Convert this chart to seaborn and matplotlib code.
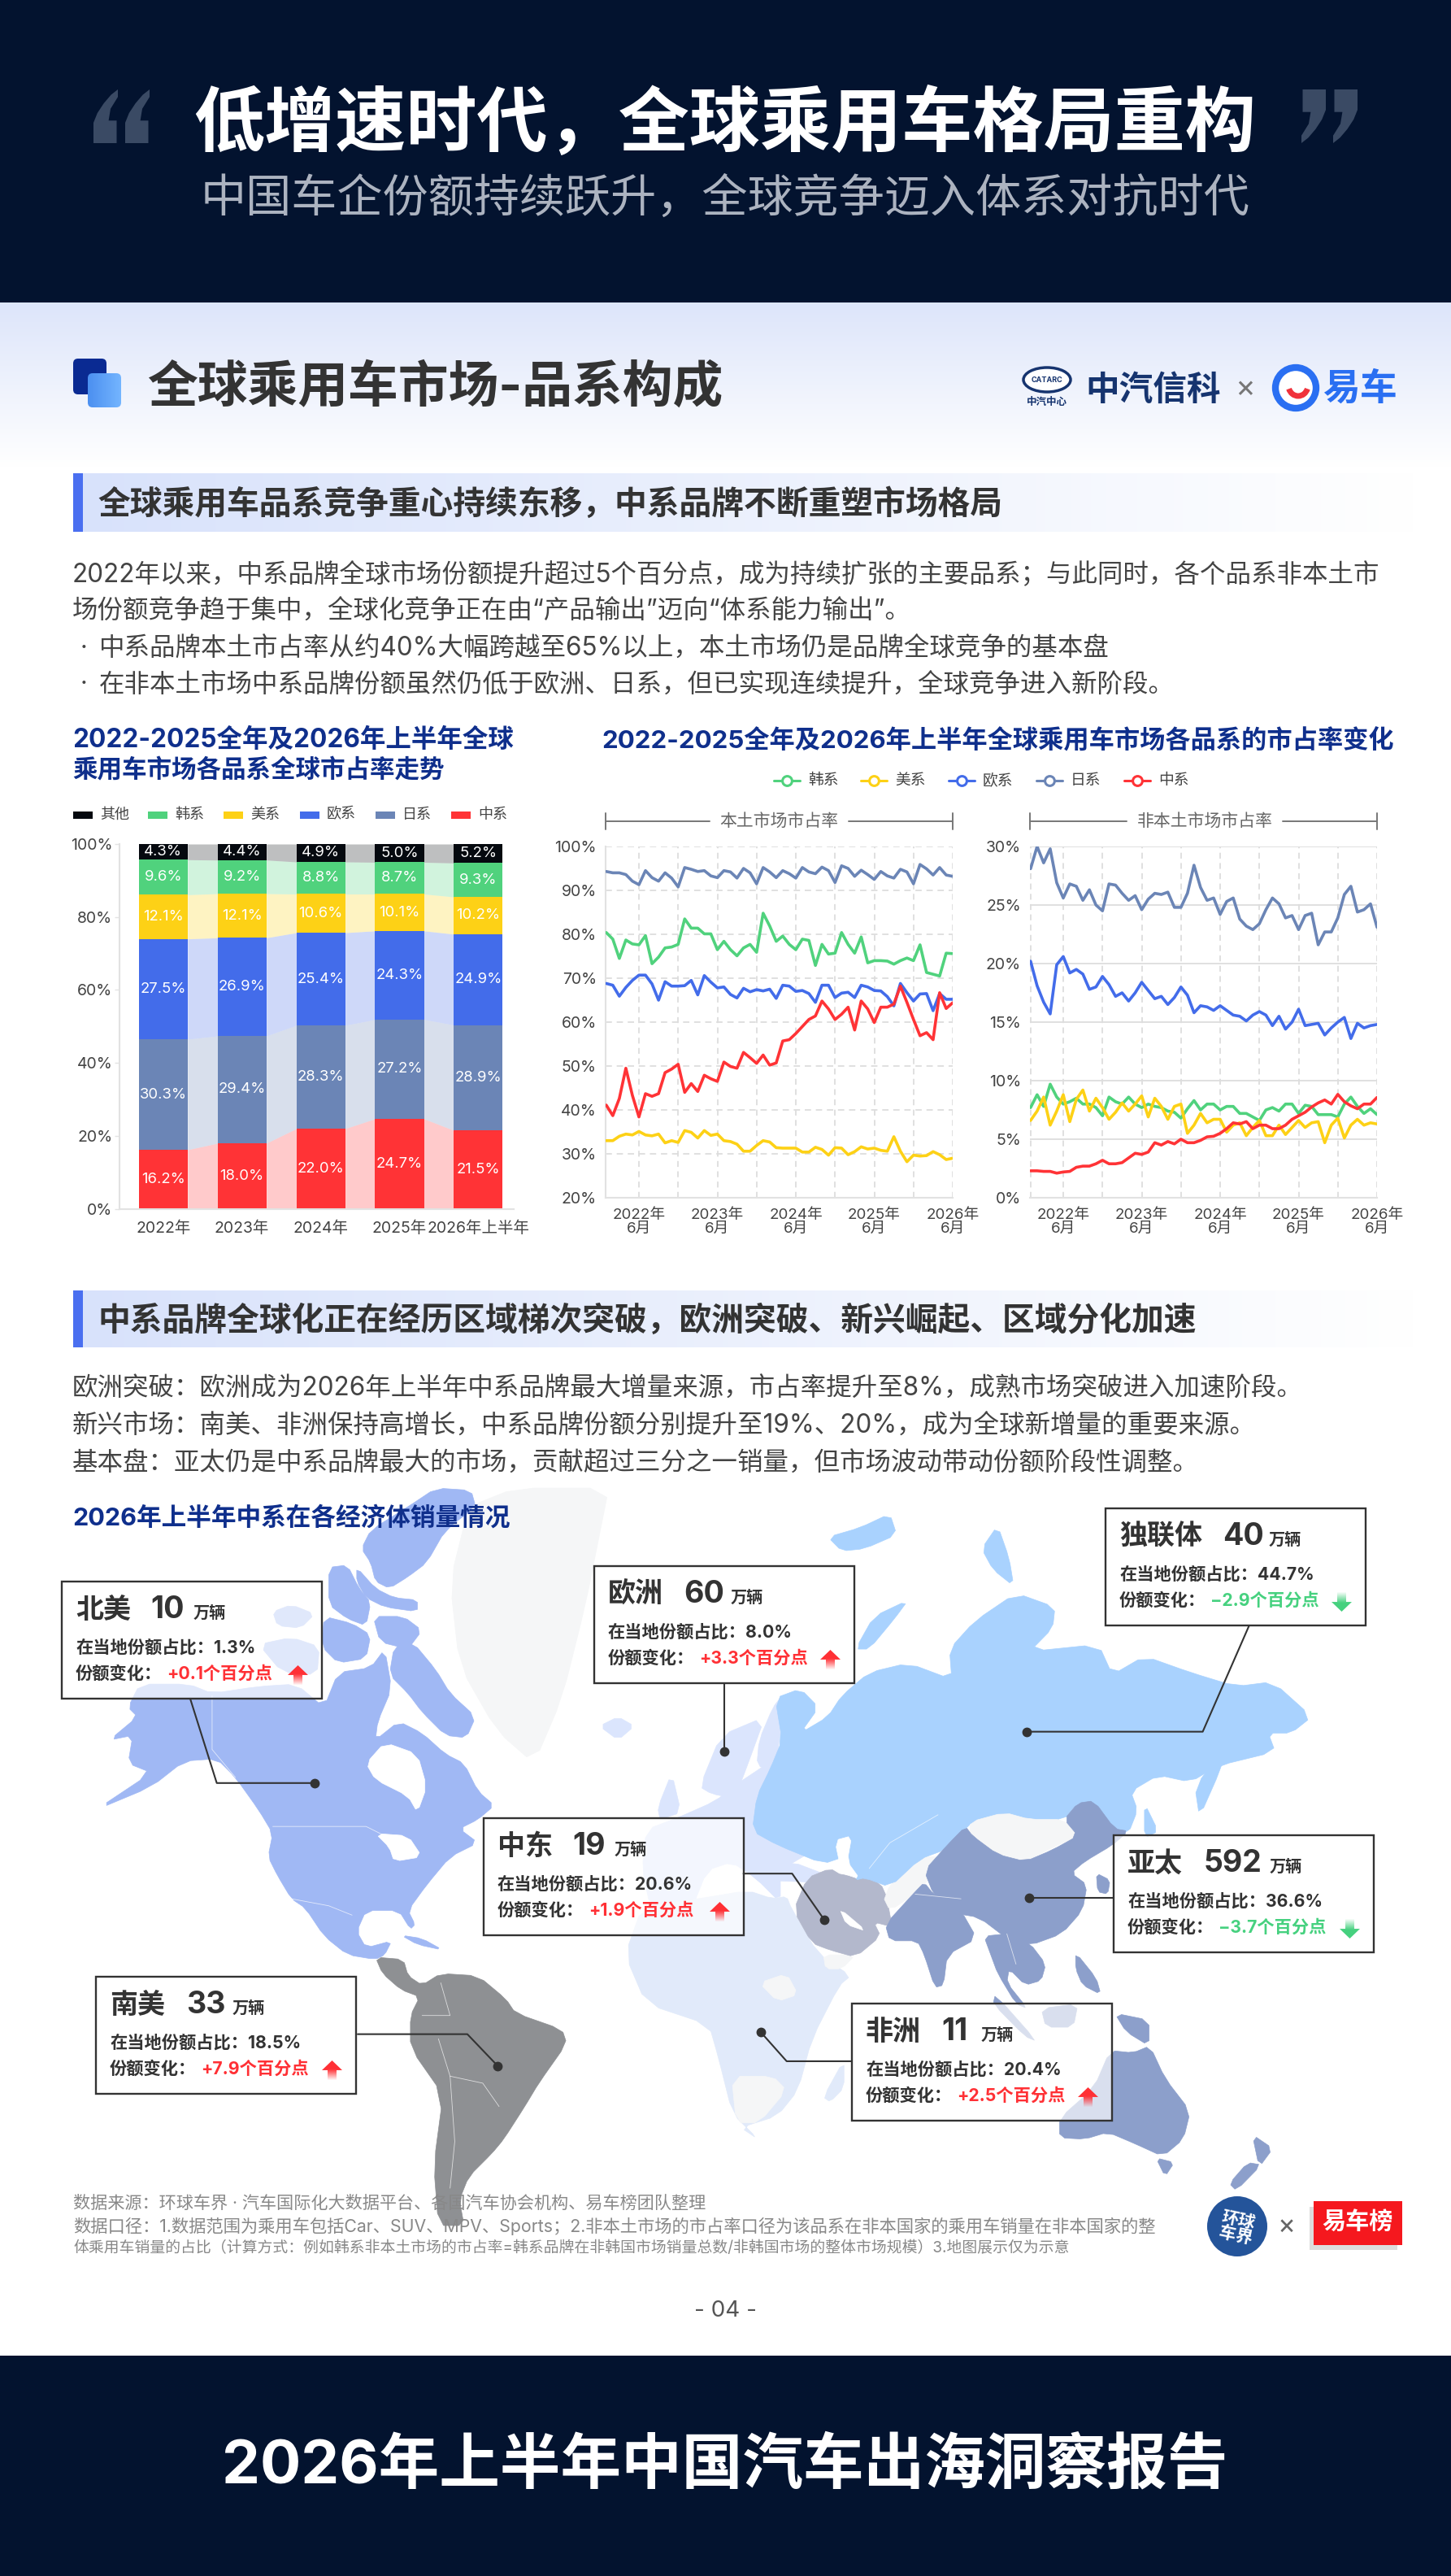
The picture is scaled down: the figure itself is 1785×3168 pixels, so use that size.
import numpy as np
import pandas as pd
import matplotlib
matplotlib.use("Agg")
import matplotlib.pyplot as plt
from matplotlib.patches import Polygon, Rectangle, FancyBboxPatch, Ellipse, Arc
import seaborn as sns

sns.set_theme(style="white")
plt.rcParams['font.family'] = ['Inter', 'Noto Sans CJK SC', 'DejaVu Sans']
plt.rcParams['axes.unicode_minus'] = False

W, H = 1785, 3168
C_KR, C_US, C_EU, C_JP, C_CN, C_OT = '#50d27d', '#fdd116', '#436cea', '#6b85b6', '#ff3336', '#05090f'
NAVY = '#03132f'
TITLE_BLUE = '#0f2f8c'
INK = '#333333'

# ---------- stacked bars ----------
years = ['2022年', '2023年', '2024年', '2025年', '2026年上半年']
stack_names = ['中系', '日系', '欧系', '美系', '韩系', '其他']
share_cn = [16.2, 18.0, 22.0, 24.7, 21.5]
share_jp = [30.3, 29.4, 28.3, 27.2, 28.9]
share_eu = [27.5, 26.9, 25.4, 24.3, 24.9]
share_us = [12.1, 12.1, 10.6, 10.1, 10.2]
share_kr = [9.6, 9.2, 8.8, 8.7, 9.3]
share_ot = [4.3, 4.4, 4.9, 5.0, 5.2]

# ---------- monthly lines, Jan 2022 - Jun 2026 ----------
home_jp = [94.3, 94.0, 94.0, 93.6, 92.1, 91.3, 94.5, 92.9, 92.1, 94.0,
           92.8, 90.8, 95.2, 94.8, 94.3, 94.5, 93.3, 92.9, 94.5, 94.2,
           92.8, 95.0, 94.0, 91.5, 95.2, 94.2, 92.9, 94.5, 93.8, 92.8,
           95.2, 94.2, 93.8, 95.3, 94.5, 91.8, 95.6, 95.0, 93.2, 94.6,
           93.6, 92.5, 94.3, 93.3, 92.8, 94.8, 94.2, 91.5, 95.9, 94.9,
           93.5, 95.2, 93.5, 93.2]
home_kr = [80.4, 78.9, 74.5, 78.7, 77.8, 77.6, 79.7, 73.3, 74.8, 76.9,
           77.1, 77.7, 83.5, 81.4, 81.4, 80.1, 80.1, 76.5, 78.4, 76.5,
           75.1, 76.9, 77.7, 75.9, 84.8, 81.9, 78.4, 79.6, 77.7, 76.5,
           78.9, 78.6, 72.9, 77.7, 75.5, 75.7, 80.4, 77.7, 75.7, 79.4,
           73.5, 74.0, 74.0, 73.9, 73.2, 74.0, 74.6, 74.0, 77.6, 71.3,
           70.9, 70.5, 75.7, 75.6]
home_eu = [68.8, 68.4, 65.9, 67.9, 69.5, 70.7, 70.7, 68.7, 65.0, 69.2,
           68.2, 68.2, 68.3, 69.5, 66.2, 70.6, 69.1, 67.8, 68.0, 66.3,
           65.5, 67.7, 66.9, 67.4, 67.1, 67.5, 65.4, 68.4, 68.2, 67.0,
           67.2, 66.5, 64.5, 68.4, 68.4, 65.6, 66.6, 66.8, 65.6, 68.4,
           68.0, 67.2, 67.1, 65.8, 63.7, 68.8, 66.7, 64.8, 66.4, 66.5,
           62.6, 66.5, 65.2, 65.2]
home_cn = [41.1, 38.7, 42.6, 49.5, 43.3, 38.4, 43.7, 43.1, 43.7, 48.5,
           49.3, 50.4, 44.0, 46.0, 44.2, 47.9, 47.1, 46.5, 50.9, 49.9,
           49.5, 53.1, 51.9, 50.6, 52.5, 50.2, 50.7, 55.7, 56.0, 57.4,
           59.0, 60.6, 61.4, 64.8, 63.0, 60.6, 61.8, 63.4, 58.2, 64.8,
           63.0, 59.9, 63.4, 63.4, 64.1, 68.2, 64.5, 60.6, 56.9, 57.6,
           56.0, 66.7, 63.1, 64.4]
home_us = [33.0, 33.0, 34.0, 34.5, 34.3, 35.1, 34.3, 34.1, 34.5, 32.5,
           33.0, 32.6, 35.3, 34.9, 33.6, 35.3, 34.2, 34.5, 33.0, 32.8,
           32.2, 30.6, 30.6, 31.9, 33.0, 32.7, 31.4, 31.3, 31.3, 31.3,
           30.4, 30.4, 31.5, 31.0, 29.7, 31.4, 31.3, 29.8, 30.5, 31.6,
           31.1, 31.3, 30.8, 30.6, 33.9, 30.6, 28.2, 29.7, 29.5, 29.6,
           30.5, 29.8, 28.7, 29.0]
away_jp = [28.1, 30.0, 28.6, 29.8, 26.9, 25.6, 26.8, 26.6, 25.4, 26.3,
           25.0, 24.5, 26.8, 26.7, 26.0, 25.4, 25.8, 24.6, 25.5, 26.0,
           25.9, 26.1, 24.8, 24.8, 26.0, 28.4, 26.5, 25.4, 25.6, 24.2,
           25.3, 25.6, 23.8, 23.2, 22.9, 23.4, 24.6, 25.6, 25.1, 23.9,
           24.1, 22.9, 24.1, 24.3, 21.6, 22.7, 22.7, 23.9, 25.9, 26.6,
           24.4, 24.6, 25.1, 23.1]
away_eu = [20.2, 18.1, 16.7, 15.7, 19.9, 20.6, 19.2, 19.5, 19.1, 17.8,
           18.0, 18.9, 18.2, 17.2, 17.5, 16.8, 17.5, 18.4, 17.7, 17.0,
           17.2, 16.5, 17.1, 18.0, 17.3, 15.8, 16.4, 16.3, 16.0, 16.4,
           16.0, 15.6, 15.5, 15.1, 15.6, 15.9, 15.6, 14.7, 15.5, 14.4,
           15.0, 16.1, 14.7, 14.8, 14.9, 13.9, 14.5, 15.0, 15.4, 13.6,
           14.9, 14.5, 14.7, 14.8]
away_kr = [7.7, 8.8, 7.8, 9.7, 8.6, 8.0, 8.2, 8.5, 8.0, 8.0,
           7.7, 7.0, 8.6, 8.2, 8.0, 8.6, 8.0, 7.7, 8.0, 7.8,
           7.7, 7.4, 7.3, 6.8, 7.6, 8.3, 7.5, 8.0, 8.0, 7.5,
           7.8, 7.8, 7.2, 7.2, 6.9, 6.6, 7.5, 7.7, 7.4, 8.0,
           8.0, 7.2, 7.9, 7.8, 7.1, 7.1, 7.1, 6.9, 8.0, 8.6,
           7.8, 7.2, 7.6, 7.1]
away_us = [6.6, 7.4, 8.6, 6.2, 7.4, 8.8, 6.5, 8.4, 9.2, 7.4,
           8.5, 7.7, 6.7, 7.3, 8.1, 7.4, 8.0, 8.7, 6.9, 8.5,
           7.8, 6.7, 7.8, 8.0, 5.5, 6.2, 7.2, 6.4, 6.7, 6.7,
           5.6, 6.2, 6.4, 5.3, 6.0, 6.6, 5.3, 5.3, 6.2, 5.4,
           6.0, 6.6, 6.0, 6.4, 6.5, 4.7, 6.2, 6.8, 5.1, 6.2,
           6.7, 6.2, 6.4, 6.3]
away_cn = [2.3, 2.3, 2.25, 2.25, 2.1, 2.2, 2.25, 2.6, 2.7, 2.7,
           2.9, 3.2, 2.9, 2.9, 3.0, 3.4, 3.8, 3.7, 3.9, 4.7,
           4.5, 4.8, 4.6, 5.0, 4.7, 4.7, 4.9, 5.2, 5.25, 5.5,
           5.9, 6.4, 6.3, 6.5, 5.9, 6.2, 6.2, 5.9, 5.9, 6.2,
           6.7, 7.0, 7.3, 7.75, 8.1, 8.35, 8.0, 8.83, 8.2, 7.85,
           7.6, 8.0, 8.0, 8.57]
line_names = ['韩系', '美系', '欧系', '日系', '中系']
tick_years = ['2022年', '2023年', '2024年', '2025年', '2026年']

# ---------- regional call-outs ----------
region_names = ['北美', '欧洲', '中东', '南美', '独联体', '亚太', '非洲']
region_units = ['10', '60', '19', '33', '40', '592', '11']
region_share = ['1.3%', '8.0%', '20.6%', '18.5%', '44.7%', '36.6%', '20.4%']
region_delta = ['+0.1', '+3.3', '+1.9', '+7.9', '−2.9', '−3.7', '+2.5']

fig = plt.figure(figsize=(W / 100, H / 100), dpi=100, facecolor='white')
bg = fig.add_axes([0, 0, 1, 1], zorder=0)
bg.set_axis_off()


def z4(pts):
    return [(60 + x / 1.742, 1830 + y / 1.742) for x, y in pts]


def z5(pts):
    return [(900 + x / 1.772, 1830 + y / 1.742) for x, y in pts]


def T(x, y, s, fs, c=INK, w='normal', ha='left', va='center', **k):
    return bg.text(x, y, s, fontsize=fs, color=c, fontweight=w, ha=ha, va=va, **k)


def rect(x0, y0, x1, y1, c, **k):
    bg.add_patch(Rectangle((x0, y0), x1 - x0, y1 - y0, facecolor=c, edgecolor='none', **k))


def grad(x0, y0, x1, y1, c0, c1, vertical=True, clip=None, zorder=1, hold=0.0):
    a = np.array(matplotlib.colors.to_rgba(c0))
    b = np.array(matplotlib.colors.to_rgba(c1))
    t = np.clip((np.linspace(0, 1, 128) - hold) / (1 - hold), 0, 1)[:, None]
    img = a[None, :] * (1 - t) + b[None, :] * t
    img = img[:, None, :] if vertical else img[None, :, :]
    im = bg.imshow(img, extent=(x0, x1, y1, y0), aspect='auto', zorder=zorder, interpolation='bilinear')
    if clip is not None:
        bg.add_patch(clip)
        im.set_clip_path(clip)
    return im


def smooth(pts, n=1):
    p = np.array(pts, dtype=float)
    for _ in range(n):
        q = np.roll(p, -1, axis=0)
        p = np.column_stack([.8 * p + .2 * q, .2 * p + .8 * q]).reshape(-1, 2)
    return p


# ---------- page frame ----------
rect(0, 0, W, 372, NAVY)
rect(0, 2897, W, H, NAVY)
grad(0, 372, W, 575, '#dde5fa', '#ffffff')
T(892, 153, '低增速时代，全球乘用车格局重构', 62.7, 'white', 'bold', ha='center')
T(892, 245, '中国车企份额持续跃升，全球竞争迈入体系对抗时代', 40.4, '#acb3c0', ha='center')
T(892, 3033, '2026年上半年中国汽车出海洞察报告', 53.7, 'white', 'bold', ha='center')
T(892, 2842, '- 04 -', 20, '#555555', ha='center')

quote_shape = np.array([(1, 0), (.72, .1), (.42, .26), (.16, .44), (0, .62), (0, 1), (.95, 1), (.95, .58), (.62, .58), (.7, .36), (1, .14)])
for qx, flip in ((115, False), (1601, True)):
    for off in (0, 39):
        s = quote_shape if not flip else 1 - quote_shape
        bg.add_patch(Polygon(np.c_[qx + off + s[:, 0] * 30, 110 + s[:, 1] * 66], facecolor='#3a4a64', edgecolor='none', zorder=2))

# ---------- section header ----------
bg.add_patch(FancyBboxPatch((94, 445), 33, 36, boxstyle='round,pad=4,rounding_size=6', facecolor='#0a2a92', edgecolor='none', zorder=2))
clip_p = FancyBboxPatch((112, 463), 33, 34, boxstyle='round,pad=4,rounding_size=6', facecolor='none', edgecolor='none', transform=bg.transData)
grad(108, 459, 149, 501, '#4b8ff0', '#74b5ff', vertical=False, clip=clip_p, zorder=3)
T(181, 478, '全球乘用车市场-品系构成', 44.5, INK, 'bold')

bg.add_patch(Ellipse((1288, 467), 58, 30, facecolor='white', edgecolor='#16346f', lw=2.5, zorder=2))
T(1288, 467, 'CATARC', 6.5, '#16346f', 'bold', ha='center', zorder=3)
T(1288, 495, '中汽中心', 9, '#16346f', 'bold', ha='center')
T(1335, 480, '中汽信科', 30, '#16346f', 'bold')
T(1532, 478, '×', 27, '#777777', ha='center')
bg.add_patch(Ellipse((1594, 477), 50, 50, facecolor='white', edgecolor='#2a6ff2', lw=6, zorder=2))
bg.add_patch(Arc((1597, 474), 24, 26, theta1=20, theta2=160, edgecolor='#f0323c', lw=5, zorder=3, angle=0))
T(1627, 479, '易车', 33, '#2a6ff2', 'bold')

# ---------- banners and copy ----------
for y0, y1, txt, fs in ((582, 654, '全球乘用车品系竞争重心持续东移，中系品牌不断重塑市场格局', 28.65),
                        (1587, 1657, '中系品牌全球化正在经历区域梯次突破，欧洲突破、新兴崛起、区域分化加速', 28.65)):
    grad(90, y0, 1745, y1, '#d8e2fb', '#ffffff', vertical=False)
    rect(90, y0, 102, y1, '#4a6ff0', zorder=2)
    T(120, (y0 + y1) / 2 + 2, txt, fs, INK, 'bold', zorder=3)

body = [(89, 707, '2022年以来，中系品牌全球市场份额提升超过5个百分点，成为持续扩张的主要品系；与此同时，各个品系非本土市'),
        (89, 752, '场份额竞争趋于集中，全球化竞争正在由“产品输出”迈向“体系能力输出”。'),
        (122, 798, '中系品牌本土市占率从约40%大幅跨越至65%以上，本土市场仍是品牌全球竞争的基本盘'),
        (122, 842, '在非本土市场中系品牌份额虽然仍低于欧洲、日系，但已实现连续提升，全球竞争进入新阶段。'),
        (89, 1708, '欧洲突破：欧洲成为2026年上半年中系品牌最大增量来源，市占率提升至8%，成熟市场突破进入加速阶段。'),
        (89, 1754, '新兴市场：南美、非洲保持高增长，中系品牌份额分别提升至19%、20%，成为全球新增量的重要来源。'),
        (89, 1800, '基本盘：亚太仍是中系品牌最大的市场，贡献超过三分之一销量，但市场波动带动份额阶段性调整。')]
for x, y, s in body:
    T(x, y, s, 22.65, '#444444')
for y in (798, 842):
    T(103, y, '·', 22, '#444444', ha='center')

T(89, 910, '2022-2025全年及2026年上半年全球', 22.7, TITLE_BLUE, 'bold')
T(89, 947, '乘用车市场各品系全球市占率走势', 22, TITLE_BLUE, 'bold')
T(740, 911, '2022-2025全年及2026年上半年全球乘用车市场各品系的市占率变化', 22.5, TITLE_BLUE, 'bold')
T(89, 1867, '2026年上半年中系在各经济体销量情况', 22.1, TITLE_BLUE, 'bold')

# stacked legend
for x, name, c in zip((90, 182, 275, 369, 462, 555),
                      ('其他', '韩系', '美系', '欧系', '日系', '中系'),
                      (C_OT, C_KR, C_US, C_EU, C_JP, C_CN)):
    rect(x, 998, x + 24, 1007, c)
    T(x + 33, 1002, name, 13, '#444444')

# line legend
for x, name, c in zip((952, 1059, 1167, 1275, 1383), line_names, (C_KR, C_US, C_EU, C_JP, C_CN)):
    bg.plot([x, x + 32], [960, 960], color=c, lw=2.2, solid_capstyle='round', zorder=2)
    bg.plot([x + 16], [960], 'o', ms=8.5, mfc='white', mec=c, mew=2.2, zorder=3)
    T(x + 42, 960, name, 13.5, '#444444')

# brackets above the two line charts
for x0, x1, g0, g1, label in ((745, 1172, 873, 1044, '本土市场市占率'), (1267, 1694, 1386, 1578, '非本土市场市占率')):
    for xa, xb in ((x0, g0), (g1, x1)):
        bg.plot([xa, xb], [1010, 1010], color='#777777', lw=1.4)
    for xa in (x0, x1):
        bg.plot([xa, xa], [1000, 1020], color='#777777', lw=1.4)
    T((g0 + g1) / 2, 1010, label, 15, '#666666', ha='center')

# ---------- map ----------
L_NA, L_CIS, L_AP, L_EU, L_AF, L_ME, L_SA, L_GR = '#a0b8f4', '#a9d2fe', '#8c9fcb', '#dbe5fd', '#e1eafa', '#b3b8cc', '#8e9093', '#f5f6f7'
land = [
    (L_GR, z4([(860, 200), (900, 40), (1000, 0), (1200, 0), (1180, 100), (1150, 250), (1100, 450), (1040, 590), (960, 520), (880, 380)])),
    (L_NA, z4([(170, 470), (195, 420), (300, 420), (350, 440), (450, 425), (530, 420), (590, 470), (620, 395), (690, 385), (720, 345), (735, 430), (705, 500), (700, 540), (750, 500), (800, 525), (850, 570), (890, 590), (920, 650), (955, 680), (920, 710), (880, 730), (920, 760), (860, 790), (810, 850), (770, 905), (785, 935), (775, 945), (750, 905), (680, 905), (660, 950), (680, 985), (735, 970), (720, 1000), (700, 1010), (640, 1000), (590, 960), (550, 900), (520, 880), (490, 830), (470, 790), (480, 740), (450, 690), (400, 620), (360, 580), (290, 585), (220, 640), (100, 690), (220, 610), (170, 590), (180, 530), (130, 540), (190, 490)])),
    ('white', z4([(680, 590), (720, 545), (790, 570), (810, 640), (790, 695), (770, 660), (700, 625)])),
    ('white', z4([(700, 740), (770, 745), (800, 790), (740, 800), (730, 770)])),
    (L_NA, z4([(670, 130), (690, 90), (770, 40), (830, 0), (905, 5), (915, 40), (850, 90), (810, 160), (770, 190), (730, 215), (700, 200), (690, 160)])),
    (L_NA, z4([(660, 170), (700, 215), (740, 235), (790, 240), (790, 265), (720, 255), (680, 235), (660, 200)])),
    (L_NA, z4([(600, 170), (640, 165), (665, 215), (690, 245), (680, 295), (640, 280), (600, 250)])),
    (L_NA, z4([(590, 275), (650, 290), (690, 315), (680, 365), (620, 375), (585, 340)])),
    (L_NA, z4([(695, 275), (760, 275), (800, 305), (770, 345), (710, 330)])),
    (L_NA, z4([(740, 340), (780, 330), (830, 390), (860, 440), (915, 490), (895, 535), (850, 530), (800, 480), (770, 440), (730, 400)])),
    (L_NA, z4([(480, 265), (520, 250), (570, 270), (540, 300), (490, 295)])),
    (L_NA, z4([(450, 335), (520, 320), (580, 340), (575, 400), (500, 395)])),
    (L_NA, z4([(755, 958), (800, 965), (845, 990), (790, 978)])),
    (L_EU, z4([(1180, 510), (1220, 490), (1255, 510), (1220, 540)])),
    (L_SA, z4([(700, 1005), (760, 1010), (770, 1045), (800, 1065), (840, 1040), (920, 1045), (980, 1095), (1000, 1125), (1100, 1160), (1110, 1190), (1050, 1275), (1020, 1325), (975, 1395), (950, 1425), (900, 1475), (880, 1525), (890, 1580), (835, 1580), (825, 1450), (845, 1300), (775, 1200), (775, 1130), (795, 1090), (755, 1075), (715, 1040)])),
    (L_EU, [(795, 2250), (835, 2235), (880, 2215), (905, 2195), (950, 2165), (950, 2215), (930, 2235), (930, 2250), (960, 2270), (1010, 2270), (960, 2300), (960, 2340), (930, 2310), (900, 2290), (870, 2300), (850, 2350), (800, 2345), (790, 2300)]),
    (L_EU, z4([(1395, 640), (1440, 530), (1535, 490), (1495, 600), (1470, 665), (1420, 655)])),
    (L_EU, z5([(60, 540), (90, 470), (110, 445), (105, 540), (92, 605), (55, 595)])),
    (L_EU, z4([(1305, 685), (1335, 610), (1355, 695), (1310, 710)])),
    (L_EU, z5([(40, 810), (130, 800), (210, 830), (190, 845), (60, 840)])),
    (L_AF, [(769, 2404), (790, 2345), (860, 2335), (920, 2325), (950, 2335)] + z5([(120, 875), (130, 900), (190, 1000), (260, 1045), (235, 1065), (175, 1180), (145, 1290), (100, 1345), (20, 1370)]) + z4([(1520, 1395), (1465, 1340), (1435, 1220), (1415, 1150), (1280, 1105)])),
    (L_AF, z5([(200, 1305), (245, 1225), (245, 1285), (215, 1315)])),
    (L_GR, z5([(0, 1260), (90, 1260), (120, 1290), (60, 1360), (10, 1360)])),
    (L_GR, z5([(60, 1060), (120, 1040), (145, 1085), (100, 1100)])),
    (L_GR, z5([(200, 1000), (270, 1000), (240, 1030), (205, 1030)])),
    (L_ME, z5([(135, 905), (165, 835), (215, 815), (240, 830), (300, 830), (335, 860), (350, 940), (310, 930), (325, 960), (270, 1005), (215, 990), (175, 975)])),
    ('white', z5([(235, 900), (295, 950), (250, 935)])),
    (L_GR, z5([(330, 875), (390, 790), (465, 790), (420, 850), (400, 870), (345, 905)])),
    (L_CIS, z5([(85, 600), (110, 540), (95, 450), (150, 430), (190, 470), (150, 525), (210, 490), (240, 445), (300, 395), (385, 375), (480, 410), (475, 345), (530, 285), (620, 225), (705, 255), (700, 300), (650, 350), (800, 335), (830, 400), (900, 360), (1000, 395), (1100, 425), (1180, 415), (1265, 490), (1220, 525), (1170, 525), (1185, 565), (1060, 595), (1000, 630), (930, 615), (870, 650), (885, 690), (865, 740), (820, 735), (780, 680), (750, 680), (725, 710), (650, 710), (595, 695), (525, 715), (500, 740), (465, 775), (410, 795), (345, 855), (290, 835), (270, 840), (245, 790), (200, 805), (100, 765), (45, 735), (55, 660)])),
    ('white', z5([(225, 755), (262, 745), (252, 800), (280, 838), (240, 825)])),
    (L_CIS, z5([(270, 345), (310, 275), (385, 240), (355, 280), (300, 345)])),
    (L_CIS, z5([(1010, 640), (1080, 550), (1065, 605), (1020, 705)])),
    (L_CIS, z5([(900, 675), (930, 735), (900, 750)])),
    (L_CIS, z5([(210, 105), (280, 85), (345, 55), (360, 100), (290, 130), (240, 135)])),
    (L_CIS, z5([(545, 130), (580, 80), (605, 150), (615, 210), (570, 175)])),
    (L_GR, z5([(520, 715), (595, 695), (650, 710), (725, 710), (755, 745), (700, 770), (640, 800), (580, 785), (520, 745)])),
    (L_AP, z5([(420, 820), (470, 765), (510, 725), (525, 745), (580, 785), (640, 800), (700, 775), (755, 745), (725, 710), (755, 675), (790, 670), (835, 730), (865, 735), (830, 765), (770, 800), (740, 825), (775, 850), (765, 905), (720, 955), (650, 980), (600, 965), (540, 920), (480, 910), (440, 870)])),
    (L_AP, z5([(335, 935), (400, 865), (420, 845), (440, 870), (500, 905), (535, 965), (470, 1000), (462, 1065), (443, 1070), (420, 1000), (405, 970), (345, 970)])),
    (L_AP, z5([(550, 960), (600, 955), (650, 975), (685, 1020), (675, 1055), (640, 1065), (605, 1030), (600, 1060), (645, 1115), (620, 1105), (580, 1040), (565, 1000)])),
    (L_AP, z5([(750, 995), (795, 1050), (805, 1085), (765, 1065), (750, 1030)])),
    (L_AP, z5([(795, 825), (825, 840), (820, 870), (798, 865)])),
    (L_AP, z5([(575, 1085), (665, 1185), (640, 1175), (570, 1105)])),
    (L_AP, z5([(675, 1115), (755, 1105), (745, 1155), (685, 1155)])),
    (L_AP, z5([(835, 1125), (910, 1140), (910, 1195), (860, 1165)])),
    (L_AP, z5([(715, 1392), (715, 1350), (790, 1285), (825, 1205), (875, 1210), (912, 1195), (945, 1265), (1000, 1335), (985, 1395), (940, 1432), (880, 1405), (820, 1380), (770, 1395)])),
    (L_AP, z5([(925, 1435), (965, 1445), (945, 1475)])),
    (L_AP, z5([(1135, 1385), (1180, 1415), (1150, 1455)])),
    (L_AP, z5([(1125, 1445), (1155, 1450), (1100, 1505), (1085, 1490)])),
]
for c, pts in land:
    bg.add_patch(Polygon(smooth(pts), closed=True, facecolor=c, edgecolor=c, lw=.5, zorder=2, joinstyle='round'))

borders = [z4([(350, 445), (350, 560), (400, 620)]),
           z4([(480, 725), (680, 725), (720, 745)]),
           z4([(520, 880), (600, 895), (650, 915)]),
           z4([(840, 1060), (860, 1130), (800, 1130)]),
           z4([(835, 1180), (860, 1260), (930, 1275), (965, 1325)]),
           z4([(860, 1260), (870, 1400), (860, 1500)]),
           z5([(300, 815), (345, 760), (450, 700)]),
           z5([(400, 870), (500, 880)]),
           z5([(600, 955), (620, 1020)])]
for pts in borders:
    a = np.array(pts)
    bg.plot(a[:, 0], a[:, 1], color='white', lw=.6, alpha=.7, zorder=2.5)

links = [z4([(303, 451), (360, 632), (570, 632)]),
         z4([(1447, 420), (1447, 565)]),
         z5([(25, 826), (132, 826), (202, 925)]),
         z4([(662, 1170), (897, 1170), (962, 1238)]),
         z5([(1128, 295), (1027, 522), (643, 522)]),
         z5([(833, 878), (648, 878)]),
         z5([(262, 1228), (120, 1228), (63, 1165)])]
for pts in links:
    a = np.array(pts)
    bg.plot(a[:, 0], a[:, 1], color='#333333', lw=1.5, zorder=3)
    bg.plot(a[-1, 0], a[-1, 1], 'o', ms=7.5, color='#333333', zorder=3)

boxes = [(76, 1945), (731, 1926), (595, 2236), (118, 2431), (1360, 1855), (1370, 2257), (1048, 2464)]
num_off = [109, 110, 109, 111, 144, 111, 110]
unit_off = [162, 168, 161, 168, 201, 192, 159]
for (bx, by), name, units, sh, d, no, uo in zip(boxes, region_names, region_units, region_share, region_delta, num_off, unit_off):
    bg.add_patch(Rectangle((bx, by), 320, 144, facecolor=(1, 1, 1, .68), edgecolor='#333333', lw=1.7, zorder=4))
    T(bx + 17, by + 36, name, 24.5, INK, 'bold', zorder=5)
    T(bx + no, by + 35, units, 27, INK, 'bold', zorder=5)
    T(bx + uo, by + 39, '万辆', 14.5, INK, 'bold', zorder=5)
    T(bx + 17, by + 81, '在当地份额占比：' + sh, 15.3, INK, 'bold', zorder=5)
    T(bx + 17, by + 113, '份额变化：', 15.3, INK, 'bold', zorder=5)
    up = d.startswith('+')
    col = '#ff3035' if up else '#46d17f'
    T(bx + 129, by + 113, d + '个百分点', 15.3, col, 'bold', zorder=5)
    ax0, ay0 = bx + 278, by + 103
    if up:
        shape = [(12.5, 0), (25, 12), (18, 12), (18, 24), (7, 24), (7, 12), (0, 12)]
    else:
        shape = [(12.5, 24), (25, 12), (18, 12), (18, 0), (7, 0), (7, 12), (0, 12)]
    p = Polygon([(ax0 + a, ay0 + b) for a, b in shape], closed=True, facecolor='none', edgecolor='none', transform=bg.transData)
    if up:
        grad(ax0, ay0, ax0 + 25, ay0 + 24, col, matplotlib.colors.to_rgba(col, 0.03), clip=p, zorder=6, hold=.45)
    else:
        grad(ax0, ay0 + 24, ax0 + 25, ay0, col, matplotlib.colors.to_rgba(col, 0.03), clip=p, zorder=6, hold=.45)

# ---------- foot notes and logos ----------
for y, s, fs in ((2710, '数据来源：环球车界 · 汽车国际化大数据平台、各国汽车协会机构、易车榜团队整理', 15.2),
                 (2738, '数据口径：1.数据范围为乘用车包括Car、SUV、MPV、Sports；2.非本土市场的市占率口径为该品系在非本国家的乘用车销量在非本国家的整', 15.35),
                 (2765, '体乘用车销量的占比（计算方式：例如韩系非本土市场的市占率=韩系品牌在非韩国市场销量总数/非韩国市场的整体市场规模）3.地图展示仅为示意', 13.55)):
    T(90, y, s, fs, '#888888', zorder=7)
bg.add_patch(Ellipse((1522, 2738), 74, 74, facecolor='#24549a', edgecolor='none', zorder=7))
T(1522, 2740, '环球\n车界', 15, 'white', 'bold', ha='center', zorder=8, linespacing=.95, rotation=-12)
T(1583, 2738, '×', 24, '#666666', ha='center')
rect(1611, 2714, 1719, 2767, '#dddddd', zorder=7)
rect(1616, 2707, 1725, 2761, '#f5181e', zorder=7)
T(1670, 2733, '易车榜', 21, 'white', 'bold', ha='center', zorder=8)

bg.set_xlim(0, W)
bg.set_ylim(H, 0)


def axpx(l, t, r, b):
    a = fig.add_axes([l / W, 1 - b / H, (r - l) / W, (b - t) / H], zorder=2)
    a.patch.set_alpha(0)
    return a


# ---------- stacked bar chart ----------
ax = axpx(146.5, 1038, 632, 1486.7)
series = [share_cn, share_jp, share_eu, share_us, share_kr, share_ot]
colors = [C_CN, C_JP, C_EU, C_US, C_KR, C_OT]
base = np.zeros(len(years))
BAR_W = 0.62
for vals, c in zip(series, colors):
    v = np.array(vals)
    sns.barplot(x=years, y=v, bottom=base, color=c, saturation=1, width=BAR_W, ax=ax, order=years, linewidth=0, errorbar=None)
    for i in range(len(years) - 1):
        ax.fill_between([i + BAR_W / 2, i + 1 - BAR_W / 2], [base[i], base[i + 1]], [base[i] + v[i], base[i + 1] + v[i + 1]],
                        color=c, alpha=.26, lw=0)
    for i, val in enumerate(v):
        ax.text(i, base[i] + val / 2, f'{val:.1f}%', color='white', ha='center', va='center', fontsize=13.3)
    base = base + v
ax.set_xlim(-0.56, 4.45)
ax.set_ylim(0, 100)
ax.set_yticks(np.arange(0, 101, 20))
ax.set_yticklabels([f'{v}%' for v in range(0, 101, 20)])
ax.tick_params(axis='y', labelsize=14, labelcolor='#444444', length=4, width=1, color='#e4e4e4', pad=2, left=True)
ax.tick_params(axis='x', labelsize=14, labelcolor='#444444', length=0, pad=11)
ax.set_xlabel('')
ax.set_ylabel('')
for s in ('top', 'right'):
    ax.spines[s].set_visible(False)
for s in ('left', 'bottom'):
    ax.spines[s].set_color('#e2e2e2')
    ax.spines[s].set_linewidth(1.5)

palette = dict(zip(line_names, (C_KR, C_US, C_EU, C_JP, C_CN)))


# ---------- line charts ----------
def line_chart(box, arrays, ylim, step, dash_h, left_dash):
    a = axpx(*box)
    frame = pd.DataFrame({
        'idx': np.concatenate([np.arange(len(v)) for v in arrays]),
        'share': np.concatenate(arrays),
        'brand': np.concatenate([[n] * len(v) for n, v in zip(line_names, arrays)]),
    })
    sns.lineplot(data=frame, x='idx', y='share', hue='brand', palette=palette, hue_order=line_names,
                 linewidth=2.6, legend=False, ax=a, sort=False, errorbar=None, zorder=3)
    a.set_xlim(-0.1, 53)
    a.set_ylim(*ylim)
    yt = np.arange(ylim[0], ylim[1] + 1, step)
    a.set_yticks(yt)
    a.set_yticklabels([f'{v}%' for v in yt])
    a.set_xticks([5, 17, 29, 41, 53])
    a.set_xticklabels([f'{y}\n6月' for y in tick_years], linespacing=1.0)
    a.tick_params(axis='y', labelsize=14, labelcolor='#444444', length=0, pad=8)
    a.tick_params(axis='x', labelsize=13.5, labelcolor='#444444', length=0, pad=9)
    a.set_xlabel('')
    a.set_ylabel('')
    for v in yt[1:]:
        a.axhline(v, color='#e0e0e0', lw=1.4, ls=(0, (4, 3)) if dash_h else '-', zorder=1)
    xs = list(range(5, 54, 6)) + ([0] if left_dash else [])
    for v in xs:
        a.axvline(v, color='#dddddd', lw=1.3, ls=(0, (4, 3)), zorder=1)
    for s in ('top', 'right'):
        a.spines[s].set_visible(False)
    a.spines['left'].set_visible(not left_dash)
    a.spines['left'].set_color('#e2e2e2')
    a.spines['left'].set_linewidth(1.5)
    a.spines['bottom'].set_color('#e2e2e2')
    a.spines['bottom'].set_linewidth(1.5)
    return a


line_chart((745, 1041, 1172, 1473), [home_kr, home_us, home_eu, home_jp, home_cn], (20, 100), 10, True, False)
line_chart((1267, 1041, 1694, 1473), [away_kr, away_us, away_eu, away_jp, away_cn], (0, 30), 5, False, True)

fig.savefig('out.png', dpi=100, facecolor='white')
